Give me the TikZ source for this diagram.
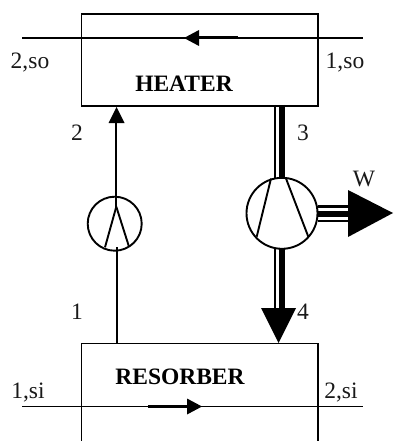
\documentclass[tikz,border=0pt]{standalone}
\usepackage{fontspec}
\setmainfont{Liberation Serif}
\begin{document}
\begin{tikzpicture}[x=1pt,y=-1pt,
  lbl/.style={font=\fontsize{23.5}{24}\selectfont,inner sep=0pt,text=black!90},
  ttl/.style={font=\fontsize{23.5}{24}\selectfont\bfseries,inner sep=0pt,text=black},
  box/.style={draw=black,line width=1.8pt},
  pipe/.style={draw=black,line width=1.8pt},
  ring/.style={draw=black,line width=1.9pt},
  thin pipe/.style={draw=black,line width=2.2pt},
  thick pipe/.style={draw=black,line width=5.8pt},
  head/.style={fill=black,draw=none}]
\useasboundingbox (0,0) rectangle (393,441);
% heater
\coordinate (hNW) at (81.5,14); \coordinate (hSE) at (318,106);
\draw[box] (hNW) rectangle (hSE);
\draw[box,line width=2.2pt] (hNW) -- (318,14);
\coordinate (hL) at (22,38); \coordinate (hR) at (363,38);
\draw[pipe] (hL) -- (hR);
\draw[black,line width=3pt] (238,38) -- (190,38);
\fill[head] (184,38) -- (199,30) -- (199,46) -- cycle;
\node[lbl] (so2) at (30,63) {2,so};
\node[lbl] (so1) at (345,63) {1,so};
\node[ttl] (heater) at (184,84) {HEATER};
% resorber
\draw[box] (81.5,441.5) -- (81.5,343.5) -- (318,343.5) -- (318,441.5);
\coordinate (rL) at (22,406.5); \coordinate (rR) at (363,406.5);
\draw[pipe] (rL) -- (rR);
\draw[black,line width=3pt] (148,406.5) -- (190,406.5);
\fill[head] (202,406.5) -- (187,398.5) -- (187,414.5) -- cycle;
\node[lbl] (si1) at (28,393) {1,si};
\node[lbl] (si2) at (341,393) {2,si};
\node[ttl] (res) at (180,377) {RESORBER};
% pump
\coordinate (pc) at (114.7,223.7);
\draw[ring] (pc) circle (27);
\draw[ring] (116.3,206.7) -- (105,247.3);
\draw[ring] (116.3,206.7) -- (129,246.7);
\draw[pipe] (116.7,247) -- (116.7,343);
\draw[black,line width=2.2pt] (116.3,207) -- (116.3,120);
\fill[head] (116.5,107) -- (108.5,123) -- (124.5,123) -- cycle;
\node[lbl] (n2) at (77,132.5) {2};
\node[lbl] (n1) at (77,311.5) {1};
% turbine
\coordinate (tc) at (282,213.3);
\draw[ring] (tc) circle (35.5);
\draw[ring] (271,178.5) -- (256.7,236.7);
\draw[ring] (286,178.5) -- (308.3,236.7);
\draw[thin pipe] (275,105) -- (275,178);
\draw[thick pipe] (281.7,105) -- (281.7,178);
\node[lbl] (n3) at (303,132.5) {3};
\draw[thin pipe] (275,248) -- (275,310);
\draw[thick pipe] (281.7,248) -- (281.7,310);
\fill[head] (278.5,343) -- (261,308) -- (296,308) -- cycle;
\node[lbl] (n4) at (303,311.5) {4};
\draw[thin pipe] (318,206.5) -- (350,206.5);
\draw[thick pipe] (318,213.7) -- (350,213.7);
\draw[thin pipe] (318,221) -- (350,221);
\fill[head] (393,213) -- (348,190) -- (348,237) -- cycle;
\node[lbl] (w) at (364,179) {W};
\end{tikzpicture}
\end{document}
